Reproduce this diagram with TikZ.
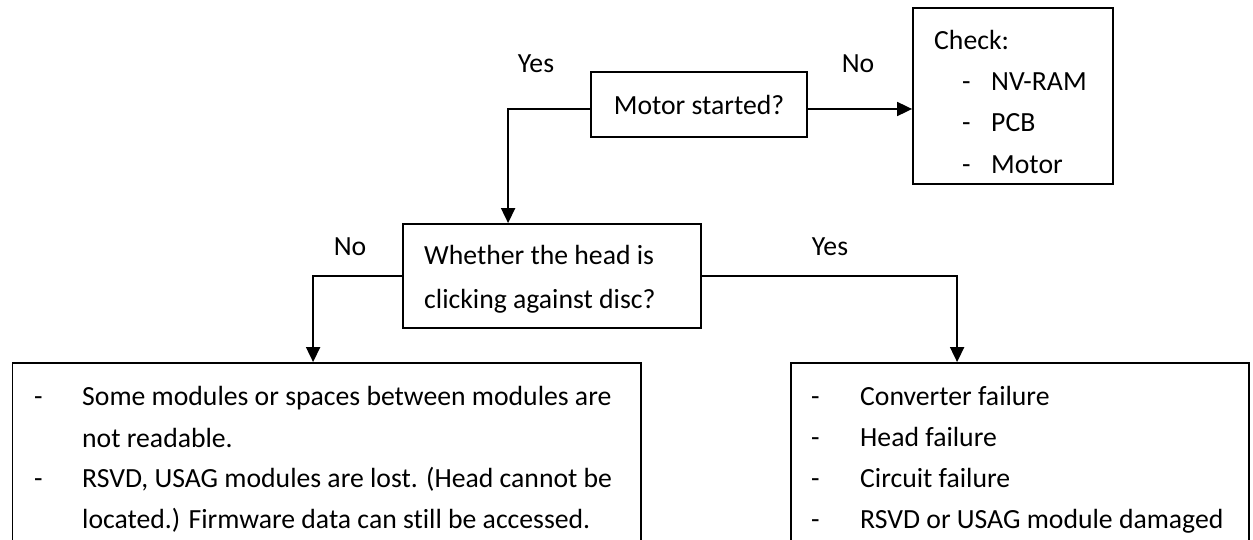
\documentclass[tikz,border=0pt]{standalone}
\usepackage{fontspec}
\setmainfont{Carlito}[Ligatures=NoCommon]
\usetikzlibrary{arrows.meta}
\begin{document}
\begin{tikzpicture}[x=1pt,y=-1pt,
  box/.style={draw=black, line width=1.8pt, rectangle, inner sep=0pt},
  txt/.style={anchor=base west, inner sep=0pt, font=\fontsize{27.7}{33}\selectfont},
  lbl/.style={anchor=base, inner sep=0pt, font=\fontsize{27.7}{33}\selectfont},
  arr/.style={line width=1.8pt, -{Triangle[length=15pt,width=14pt]}}]
\useasboundingbox (0,0) rectangle (1253,540);
\clip (0,0) rectangle (1253,540);
% boxes
\node[box, minimum width=216pt, minimum height=65pt, font=\fontsize{27.7}{33}\selectfont] (motor) at (699,104.5) {Motor started?};
\node[box, minimum width=200pt, minimum height=176pt] (check) at (1013,96) {};
\node[box, minimum width=298pt, minimum height=104pt] (whether) at (552,276) {};
\node[box, minimum width=628.5pt, minimum height=240pt] (left) at (326.75,483) {};
\node[box, minimum width=458pt, minimum height=240pt] (right) at (1020,483) {};
% check text
\begin{scope}
\clip (913,8) rectangle (1113,177);
\node[txt] (c0) at (934,50) {Check:};
\node[txt] (c1d) at (962,91) {-};
\node[txt] (c1) at (991,91) {NV-RAM};
\node[txt] (c2d) at (962,132) {-};
\node[txt] (c2) at (991,132) {PCB};
\node[txt] (c3d) at (962,174) {-};
\node[txt] (c3) at (991,174) {Motor};
\end{scope}
% whether text
\node[txt] (w1) at (424,265) {Whether the head is};
\node[txt] (w2) at (424,308) {clicking against disc?};
% left text
\node[txt] (l1d) at (34,405) {-};
\node[txt] (l1) at (82,405) {Some modules or spaces between modules are};
\node[txt] (l2) at (82,447) {not readable.};
\node[txt] (l3d) at (34,487) {-};
\node[txt] (l3) at (82,487) {RSVD, USAG modules are lost. (Head cannot be};
\node[txt] (l4) at (82,528) {located.) Firmware data can still be accessed.};
% right text
\node[txt] (r1d) at (811,405) {-};
\node[txt] (r1) at (860,405) {Converter failure};
\node[txt] (r2d) at (811,446) {-};
\node[txt] (r2) at (860,446) {Head failure};
\node[txt] (r3d) at (811,487) {-};
\node[txt] (r3) at (860,487) {Circuit failure};
\node[txt] (r4d) at (811,528) {-};
\node[txt] (r4) at (860,528) {RSVD or USAG module damaged};
% labels
\node[lbl] (yes1) at (536,73) {Yes};
\node[lbl] (no1) at (858,73) {No};
\node[lbl] (no2) at (350,255) {No};
\node[lbl] (yes2) at (830,255) {Yes};
% connectors
\draw[arr] ([yshift=-4.5pt]motor.east) -- ([yshift=-4.5pt]motor.east -| check.west);
\draw[arr] ([yshift=-4.5pt]motor.west) -| ([xshift=106pt]whether.north west);
\draw[arr] (whether.west) -| ([xshift=301.5pt]left.north west);
\draw[arr] (whether.east) -| ([xshift=167pt]right.north west);
\end{tikzpicture}
\end{document}
